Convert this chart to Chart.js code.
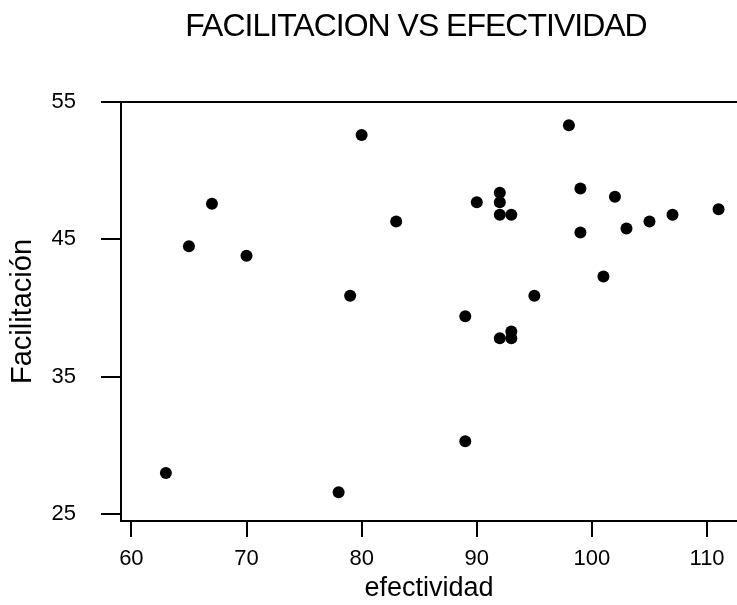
<!DOCTYPE html>
<html>
<head>
<meta charset="utf-8">
<script src="https://cdn.jsdelivr.net/npm/chart.js@4/dist/chart.umd.min.js"></script>
<style>
    body { margin: 0; background: #fff; }
    canvas { display: block; }
</style>
</head>
<body>
<canvas id="chart" width="737" height="605"></canvas>
<script>
const efectividad = [80, 67, 83, 65, 70, 79, 63, 78, 98, 99, 102, 90, 92, 92, 92, 93, 111, 107, 105, 103, 99, 101, 95, 89, 92, 93, 93, 89];
const facilitacion = [52.6, 47.6, 46.3, 44.5, 43.8, 40.9, 28.0, 26.6, 53.3, 48.7, 48.1, 47.7, 48.4, 47.7, 46.8, 46.8, 47.2, 46.8, 46.3, 45.8, 45.5, 42.3, 40.9, 39.4, 37.8, 38.3, 37.8, 30.3];
const xTicks = [60, 70, 80, 90, 100, 110];
const yTicks = [25, 35, 45, 55];

const FONT = "'Liberation Sans', Arial, Helvetica, sans-serif";

// Title and the top line of the frame
const framePlugin = {
    id: 'frame',
    afterDraw(chart) {
        const { ctx, chartArea } = chart;
        ctx.save();
        ctx.strokeStyle = '#000';
        ctx.lineWidth = 2;
        ctx.beginPath();
        ctx.moveTo(chartArea.left, chartArea.top);
        ctx.lineTo(chartArea.right, chartArea.top);
        ctx.stroke();

        ctx.fillStyle = '#000';
        ctx.font = '32px ' + FONT;
        ctx.letterSpacing = '-1px';
        ctx.textAlign = 'center';
        ctx.textBaseline = 'alphabetic';
        ctx.fillText('FACILITACION VS EFECTIVIDAD', 416, 36);
        ctx.restore();
    }
};

function fixedTicks(values) {
    return scale => {
        scale.ticks = values.map(v => ({ value: v }));
    };
}

const points = efectividad.map((x, i) => ({ x: x, y: facilitacion[i] }));

new Chart(document.getElementById('chart'), {
    type: 'scatter',
    data: {
        datasets: [{
            data: points,
            backgroundColor: '#000',
            borderWidth: 0,
            pointRadius: 6,
            pointHoverRadius: 6
        }]
    },
    options: {
        responsive: false,
        animation: false,
        // the plot runs to the right border, no room kept for edge labels
        layout: { autoPadding: false, padding: { top: 102, left: 0, right: 0, bottom: 0 } },
        plugins: {
            legend: { display: false },
            tooltip: { enabled: false }
        },
        scales: {
            x: {
                type: 'linear',
                min: 59.1,
                max: 112.6,
                afterBuildTicks: fixedTicks(xTicks),
                afterFit(scale) { scale.height = 84; },
                grid: { drawOnChartArea: false, drawTicks: true, tickLength: 16, color: '#000', lineWidth: 2 },
                border: { display: true, color: '#000', width: 2 },
                ticks: { color: '#000', padding: 9, font: { family: FONT, size: 22 } },
                title: { display: true, text: 'efectividad', color: '#000', padding: 0, font: { family: FONT, size: 27 } }
            },
            y: {
                type: 'linear',
                min: 24.5,
                max: 55,
                afterBuildTicks: fixedTicks(yTicks),
                afterFit(scale) { scale.width = 121; },
                grid: { drawOnChartArea: false, drawTicks: true, tickLength: 20, color: '#000', lineWidth: 2 },
                border: { display: true, color: '#000', width: 2 },
                ticks: { color: '#000', padding: 25, font: { family: FONT, size: 22 } },
                title: { display: true, text: 'Facilitación', color: '#000', padding: 6, font: { family: FONT, size: 29 } }
            }
        }
    },
    plugins: [framePlugin]
});
</script>
</body>
</html>
